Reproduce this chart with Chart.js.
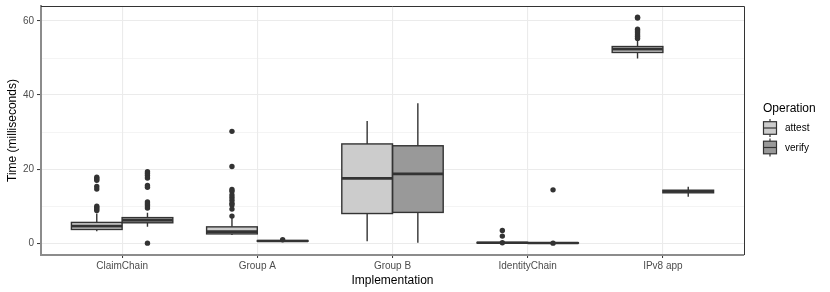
<!DOCTYPE html>
<html>
<head>
<meta charset="utf-8">
<script src="https://cdn.jsdelivr.net/npm/chart.js@4/dist/chart.umd.min.js"></script>
<style>
html,body{margin:0;padding:0;background:#ffffff;}
#wrap{width:830px;height:292px;}
</style>
</head>
<body>
<div id="wrap"><canvas id="c" width="830" height="292"></canvas></div>
<script>
// ---- data ----
const categories = ['ClaimChain', 'Group A', 'Group B', 'IdentityChain', 'IPv8 app'];
const operations = ['attest', 'verify'];

const attestLow    = [3.2, 2.2, 0.5, 0.0, 49.9];
const attestQ1     = [3.7, 2.5, 8.0, 0.05, 51.5];
const attestMedian = [4.6, 3.1, 17.5, 0.1, 52.4];
const attestQ3     = [5.6, 4.4, 26.8, 0.2, 53.1];
const attestHigh   = [8.0, 6.8, 33.0, 0.4, 54.6];
const attestOutliers = [
  [17.8, 17.4, 17.0, 15.3, 14.6, 10.0, 9.6, 9.2, 8.8],
  [30.2, 20.7, 14.5, 14.0, 13.0, 12.3, 11.6, 10.8, 10.3, 9.2, 7.3],
  [],
  [3.4, 1.9, 0.1],
  [61.0, 60.8, 57.8, 57.3, 56.8, 56.3, 55.8, 55.3]
];

const verifyLow    = [4.4, 0.4, 0.1, 0.0, 12.5];
const verifyQ1     = [5.5, 0.5, 8.3, 0.0, 13.6];
const verifyMedian = [6.2, 0.6, 18.7, 0.05, 14.0];
const verifyQ3     = [6.9, 0.7, 26.3, 0.1, 14.3];
const verifyHigh   = [8.2, 0.8, 37.8, 0.2, 15.2];
const verifyOutliers = [
  [19.3, 18.8, 18.3, 17.6, 15.6, 15.1, 11.1, 10.6, 10.1, 9.5, 0.0],
  [0.9],
  [],
  [14.4, 0.0],
  []
];

const yTickLabels = [0, 20, 40, 60];

// ---- styles ----
const FONT = '"Liberation Sans", Arial, Helvetica, sans-serif';
const fills = ['#CCCCCC', '#999999'];
const LINE = '#333333';
const DODGE = 0.1875;

const stats = [
  {low: attestLow, q1: attestQ1, med: attestMedian, q3: attestQ3, high: attestHigh},
  {low: verifyLow, q1: verifyQ1, med: verifyMedian, q3: verifyQ3, high: verifyHigh}
];

function boxData(q1, q3) {
  return categories.map((c, i) => ({x: i, y: [q1[i], q3[i]]}));
}
function outlierData(list, shift) {
  const out = [];
  list.forEach((vals, i) => vals.forEach(v => out.push({x: i + shift, y: v})));
  return out;
}

const boxPlugin = {
  id: 'boxPlugin',
  afterDatasetsDraw(chart) {
    const ctx = chart.ctx;
    const ys = chart.scales.y;
    ctx.save();
    ctx.lineCap = 'butt';
    [0, 1].forEach(di => {
      const meta = chart.getDatasetMeta(di);
      const st = stats[di];
      meta.data.forEach((bar, i) => {
        const p = bar.getProps(['x', 'width'], true);
        const left = p.x - p.width / 2;
        const pLo = ys.getPixelForValue(st.low[i]);
        const pQ1 = ys.getPixelForValue(st.q1[i]);
        const pMed = ys.getPixelForValue(st.med[i]);
        const pQ3 = ys.getPixelForValue(st.q3[i]);
        const pHi = ys.getPixelForValue(st.high[i]);
        ctx.strokeStyle = LINE;
        ctx.lineWidth = 1.4;
        ctx.beginPath();
        ctx.moveTo(p.x, pQ3); ctx.lineTo(p.x, pHi);
        ctx.moveTo(p.x, pQ1); ctx.lineTo(p.x, pLo);
        ctx.stroke();
        ctx.strokeRect(left, pQ3, p.width, pQ1 - pQ3);
        ctx.lineWidth = 2.6;
        ctx.beginPath();
        ctx.moveTo(left, pMed); ctx.lineTo(left + p.width, pMed);
        ctx.stroke();
      });
    });
    ctx.restore();
  },
  afterDraw(chart) {
    const ctx = chart.ctx;
    const a = chart.chartArea;
    ctx.save();
    // panel border top/right
    ctx.strokeStyle = LINE;
    ctx.lineWidth = 1;
    ctx.beginPath();
    ctx.moveTo(a.left, a.top + 0.5); ctx.lineTo(a.right + 0.5, a.top + 0.5);
    ctx.lineTo(a.right + 0.5, a.bottom);
    ctx.stroke();
    // legend
    ctx.fillStyle = '#000000';
    ctx.font = '12px ' + FONT;
    ctx.textAlign = 'left';
    ctx.textBaseline = 'middle';
    ctx.fillText('Operation', 763, 109);
    operations.forEach((op, k) => {
      const cy = 128 + k * 19.5;
      const cx = 770;
      ctx.strokeStyle = LINE;
      ctx.lineWidth = 1.2;
      ctx.beginPath();
      ctx.moveTo(cx, cy - 9); ctx.lineTo(cx, cy + 9);
      ctx.stroke();
      ctx.fillStyle = fills[k];
      ctx.fillRect(763.5, cy - 6.3, 13, 12.6);
      ctx.strokeRect(763.5, cy - 6.3, 13, 12.6);
      ctx.beginPath();
      ctx.moveTo(763.5, cy); ctx.lineTo(776.5, cy);
      ctx.stroke();
      ctx.fillStyle = '#000000';
      ctx.font = '10px ' + FONT;
      ctx.fillText(op, 785, cy + 0.3);
    });
    ctx.restore();
  }
};

new Chart(document.getElementById('c'), {
  type: 'bar',
  data: {
    datasets: [
      {label: operations[0], data: boxData(attestQ1, attestQ3), backgroundColor: fills[0], borderWidth: 0,
       categoryPercentage: 0.75, barPercentage: 1.0, order: 2},
      {label: operations[1], data: boxData(verifyQ1, verifyQ3), backgroundColor: fills[1], borderWidth: 0,
       categoryPercentage: 0.75, barPercentage: 1.0, order: 2},
      {type: 'scatter', label: 'attest outliers', data: outlierData(attestOutliers, -DODGE),
       pointRadius: 2.7, pointBackgroundColor: LINE, pointBorderWidth: 0, order: 1},
      {type: 'scatter', label: 'verify outliers', data: outlierData(verifyOutliers, DODGE),
       pointRadius: 2.7, pointBackgroundColor: LINE, pointBorderWidth: 0, order: 1}
    ]
  },
  options: {
    responsive: false,
    devicePixelRatio: 1,
    animation: false,
    events: [],
    layout: {padding: {left: 0, top: 6, right: 86, bottom: 0}},
    plugins: {legend: {display: false}, tooltip: {enabled: false}},
    scales: {
      x: {
        type: 'linear',
        min: -0.6,
        max: 4.6,
        offset: false,
        grid: {offset: false, color: '#EBEBEB', lineWidth: 1.1, drawTicks: true, tickLength: 3, tickColor: LINE, tickWidth: 1},
        border: {display: true, color: '#8C8C8C', width: 2},
        ticks: {
          stepSize: 1, includeBounds: false, autoSkip: false, maxRotation: 0, padding: 2,
          color: '#4D4D4D', font: {family: FONT, size: 10},
          callback: v => categories[Math.round(v)] !== undefined && Math.abs(v - Math.round(v)) < 1e-6 ? categories[Math.round(v)] : ''
        },
        title: {display: true, text: 'Implementation', color: '#000000', font: {family: FONT, size: 12}, padding: {top: 0, bottom: 4}},
        afterFit(scale) { scale.height = 37; scale.paddingLeft = 0; scale.paddingRight = 0; }
      },
      y: {
        type: 'linear',
        min: -3.2,
        max: 64.05,
        grid: {
          color: '#EBEBEB',
          lineWidth: ctx => (ctx.tick && ctx.tick.value % 20 === 0) ? 1.1 : 0.55,
          drawTicks: true, tickLength: 4,
          tickColor: ctx => (ctx.tick && ctx.tick.value % 20 === 0) ? LINE : 'rgba(0,0,0,0)',
          tickWidth: 1
        },
        border: {display: true, color: '#8C8C8C', width: 2},
        ticks: {
          stepSize: 10, includeBounds: false, padding: 3,
          color: '#4D4D4D', font: {family: FONT, size: 10},
          callback: v => yTickLabels.includes(v) ? String(v) : ''
        },
        title: {display: true, text: 'Time (milliseconds)', color: '#000000', font: {family: FONT, size: 12}, padding: {top: 5, bottom: 0}},
        afterFit(scale) { scale.width = 41; scale.paddingTop = 0; scale.paddingBottom = 0; }
      }
    }
  },
  plugins: [boxPlugin]
});
</script>
</body>
</html>
